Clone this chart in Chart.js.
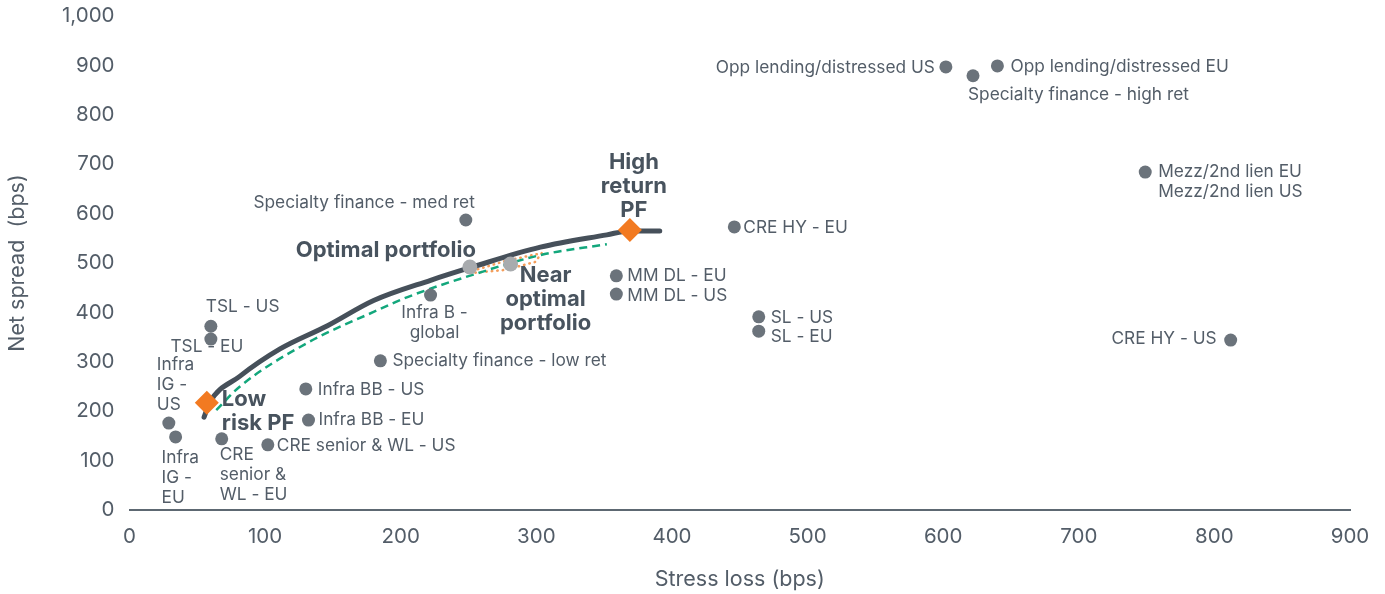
<!DOCTYPE html>
<html>
<head>
<meta charset="utf-8">
<script src="https://cdn.jsdelivr.net/npm/chart.js@4.4.1/dist/chart.umd.min.js"></script>
<style>
  html, body { margin: 0; padding: 0; background: #fff; }
  #wrap { width: 1385px; height: 594px; }
</style>
</head>
<body>
<div id="wrap"><canvas id="chart" width="1385" height="594"></canvas></div>
<script>
// asset classes: stress loss (x) vs net spread (y), both in bps
const assetNames = [
  'Opp lending/distressed US', 'Specialty finance - high ret', 'Opp lending/distressed EU',
  'Mezz/2nd lien EU', 'CRE HY - US', 'CRE HY - EU', 'SL - US', 'SL - EU',
  'MM DL - EU', 'MM DL - US', 'Specialty finance - med ret', 'Infra B - global',
  'Specialty finance - low ret', 'Infra BB - US', 'Infra BB - EU',
  'CRE senior & WL - US', 'CRE senior & WL - EU', 'TSL - US', 'TSL - EU',
  'Infra IG - US', 'Infra IG - EU'
];
const assetLoss = [602, 622, 640, 749, 812, 446, 464, 464, 359, 359, 248, 222, 185, 130, 132, 102, 68, 60, 60, 29, 34];
const assetSpread = [897, 879, 899, 684, 344, 573, 391, 362, 474, 437, 587, 435, 302, 245, 182, 132, 144, 372, 346, 176, 148];

// optimal / near optimal portfolios
const portNames = ['Optimal portfolio', 'Near optimal portfolio'];
const portLoss = [251, 281];
const portSpread = [492, 498];

// low risk / high return portfolios
const pfNames = ['Low risk PF', 'High return PF'];
const pfLoss = [57, 369];
const pfSpread = [217, 567];

// efficient frontier (solid) and near frontier (dashed)
const frontierLoss = [55, 59, 81, 111, 146, 180, 222, 253, 303, 352, 369, 391];
const frontierSpread = [188, 217, 270, 326, 373, 424, 465, 492, 532, 557, 565, 565];
const nearLoss = [64, 81, 131, 180, 205, 253, 303, 352];
const nearSpread = [202, 249, 338, 401, 431, 476, 516, 538];

// dotted band between optimal and near optimal
const bandLoss = [253, 277, 304, 299, 277, 253];
const bandSpread = [484, 504, 520, 502, 486, 480];

const yTicks = [0, 100, 200, 300, 400, 500, 600, 700, 800, 900, 1000];

const toXY = (xs, ys) => xs.map((x, i) => ({ x: x, y: ys[i] }));

// text placement relative to each marker (pixels)
const labelLayout = {
  'Opp lending/distressed US': { dx: -11, dy: 1, align: 'right' },
  'Specialty finance - high ret': { dx: -5, dy: 19, align: 'left' },
  'Opp lending/distressed EU': { dx: 13, dy: 1, align: 'left' },
  'Mezz/2nd lien EU': { dx: 13, dy: 0, align: 'left', lines: ['Mezz/2nd lien EU', 'Mezz/2nd lien US'] },
  'CRE HY - US': { dx: -14, dy: -1, align: 'right' },
  'CRE HY - EU': { dx: 9, dy: 1, align: 'left' },
  'SL - US': { dx: 12, dy: 1, align: 'left' },
  'SL - EU': { dx: 12, dy: 6, align: 'left' },
  'MM DL - EU': { dx: 11, dy: 0, align: 'left' },
  'MM DL - US': { dx: 11, dy: 2, align: 'left' },
  'Specialty finance - med ret': { dx: 9, dy: -17, align: 'right' },
  'Infra B - global': { dx: 4, dy: 18, align: 'center', lines: ['Infra B -', 'global'] },
  'Specialty finance - low ret': { dx: 12, dy: 0, align: 'left' },
  'Infra BB - US': { dx: 12, dy: 1, align: 'left' },
  'Infra BB - EU': { dx: 10, dy: 0, align: 'left' },
  'CRE senior & WL - US': { dx: 9, dy: 1, align: 'left' },
  'CRE senior & WL - EU': { dx: -2, dy: 16, align: 'left', lines: ['CRE', 'senior &', 'WL - EU'] },
  'TSL - US': { dx: -5, dy: -19, align: 'left' },
  'TSL - EU': { dx: -4, dy: 8, align: 'center' },
  'Infra IG - US': { dx: -12, dy: -58, align: 'left', lines: ['Infra', 'IG -', 'US'] },
  'Infra IG - EU': { dx: -14, dy: 21, align: 'left', lines: ['Infra', 'IG -', 'EU'] },
  'Optimal portfolio': { dx: 6, dy: -17, align: 'right', bold: true },
  'Near optimal portfolio': { dx: 35, dy: 11, align: 'center', bold: true, lines: ['Near', 'optimal', 'portfolio'] },
  'Low risk PF': { dx: 15, dy: -3, align: 'left', bold: true, lines: ['Low', 'risk PF'] },
  'High return PF': { dx: 4, dy: -68, align: 'center', bold: true, lines: ['High', 'return', 'PF'] }
};

const textGrey = '#535d68';
const boldGrey = '#48535e';

const labelPlugin = {
  id: 'pointLabels',
  afterDatasetsDraw(chart) {
    const { ctx, scales: { x, y } } = chart;
    const groups = [
      [assetNames, assetLoss, assetSpread],
      [portNames, portLoss, portSpread],
      [pfNames, pfLoss, pfSpread]
    ];
    ctx.save();
    ctx.textBaseline = 'middle';
    groups.forEach(([names, xs, ys]) => {
      names.forEach((name, i) => {
        const l = labelLayout[name];
        if (!l) return;
        const px = x.getPixelForValue(xs[i]) + l.dx;
        const py = y.getPixelForValue(ys[i]) + l.dy;
        const lines = l.lines || [name];
        const lh = l.bold ? 24 : 20;
        ctx.font = l.bold ? 'bold 22px Inter' : '17.3px Inter';
        ctx.fillStyle = l.bold ? boldGrey : textGrey;
        ctx.textAlign = l.align;
        lines.forEach((t, k) => ctx.fillText(t, px, py + k * lh));
      });
    });
    ctx.restore();
  }
};

Chart.defaults.font.family = 'Inter';
Chart.defaults.color = textGrey;

new Chart(document.getElementById('chart'), {
  type: 'scatter',
  data: {
    datasets: [
      {
        label: 'Band',
        data: toXY(bandLoss, bandSpread),
        showLine: true,
        fill: false,
        borderColor: '#f49d5a',
        borderWidth: 2.5,
        borderCapStyle: 'round',
        borderDash: [0.5, 5],
        pointRadius: 0,
        order: 5
      },
      {
        label: 'Near frontier',
        data: toXY(nearLoss, nearSpread),
        showLine: true,
        borderColor: '#13a77c',
        borderWidth: 2.5,
        borderDash: [8, 5],
        cubicInterpolationMode: 'monotone',
        pointRadius: 0,
        order: 4
      },
      {
        label: 'Frontier',
        data: toXY(frontierLoss, frontierSpread),
        showLine: true,
        borderColor: '#46505a',
        borderWidth: 5,
        borderCapStyle: 'round',
        cubicInterpolationMode: 'monotone',
        pointRadius: 0,
        order: 3
      },
      {
        label: 'Asset classes',
        data: toXY(assetLoss, assetSpread),
        backgroundColor: '#6b737b',
        borderWidth: 0,
        pointRadius: 6.5,
        order: 2
      },
      {
        label: 'Portfolios',
        data: toXY(portLoss, portSpread),
        backgroundColor: '#a8abae',
        borderWidth: 0,
        pointRadius: 7.5,
        order: 1
      },
      {
        label: 'PF',
        data: toXY(pfLoss, pfSpread),
        backgroundColor: '#f27a21',
        borderWidth: 0,
        pointStyle: 'rectRot',
        pointRadius: 12,
        order: 0
      }
    ]
  },
  options: {
    responsive: false,
    animation: false,
    layout: { padding: { top: 16, right: 35, left: 0, bottom: 0 } },
    plugins: {
      legend: { display: false },
      tooltip: { enabled: false }
    },
    scales: {
      x: {
        type: 'linear',
        min: 0,
        max: 900,
        afterFit: s => { s.height = 84; },
        ticks: {
          stepSize: 100,
          padding: 15,
          color: textGrey,
          font: { size: 20.5 }
        },
        grid: { display: false, drawTicks: false },
        border: { display: true, color: '#5d6872', width: 2 },
        title: {
          display: true,
          text: 'Stress loss (bps)',
          color: textGrey,
          font: { size: 21.5 },
          padding: { top: 0, bottom: 2 }
        }
      },
      y: {
        type: 'linear',
        min: 0,
        max: 1000,
        afterFit: s => { s.width = 129.5; s.paddingTop = 0; s.paddingBottom = 0; },
        afterBuildTicks: s => { s.ticks = yTicks.map(v => ({ value: v })); },
        ticks: {
          padding: 15,
          color: textGrey,
          font: { size: 20.5 },
          callback: v => v.toLocaleString('en-US')
        },
        grid: { display: false, drawTicks: false },
        border: { display: false },
        title: {
          display: true,
          text: 'Net spread  (bps)',
          color: textGrey,
          font: { size: 21.5 },
          padding: { top: 5, bottom: 0 }
        }
      }
    }
  },
  plugins: [labelPlugin]
});
</script>
</body>
</html>
